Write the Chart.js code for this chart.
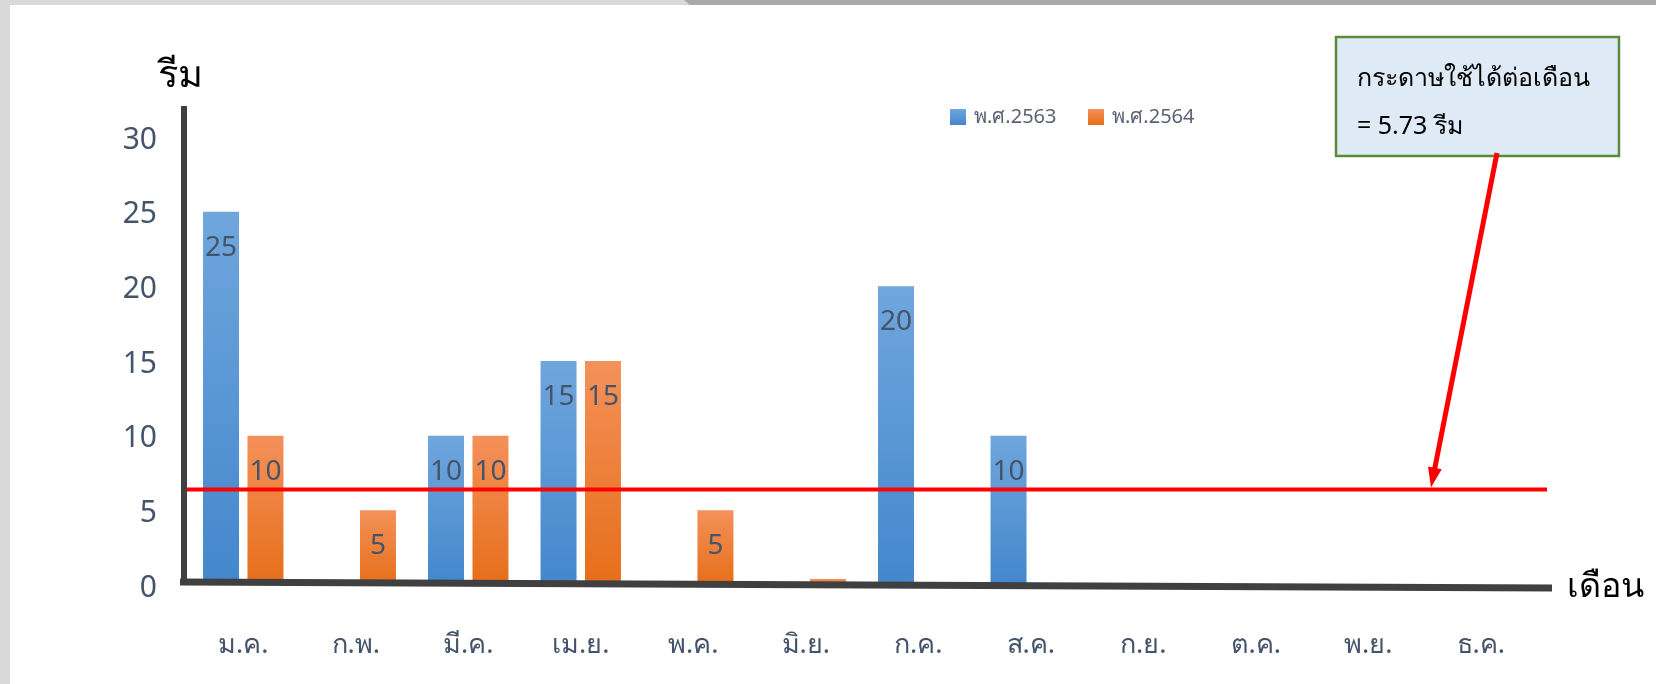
<!DOCTYPE html>
<html>
<head>
<meta charset="utf-8">
<script src="https://cdn.jsdelivr.net/npm/chart.js@4"></script>
<style>
  html, body { margin: 0; padding: 0; background: #fff; }
  #wrap { position: relative; width: 1656px; height: 684px; }
</style>
</head>
<body>
<div id="wrap"><canvas id="myChart"></canvas></div>
<script>
// ข้อมูลการใช้กระดาษ (รีม) รายเดือน
const months = ['ม.ค.', 'ก.พ.', 'มี.ค.', 'เม.ย.', 'พ.ค.', 'มิ.ย.', 'ก.ค.', 'ส.ค.', 'ก.ย.', 'ต.ค.', 'พ.ย.', 'ธ.ค.'];
const year2563 = [25, 0, 10, 15, 0, 0, 20, 10, 0, 0, 0, 0];
const year2564 = [10, 5, 10, 15, 5, 0.4, 0, 0, 0, 0, 0, 0];
const yTicks = [0, 5, 10, 15, 20, 25, 30];
const avgLine = 6.4;   // where the red line sits on the picture
const noteLines = ['กระดาษใช้ได้ต่อเดือน', '= 5.73 รีม'];

const FONT = "Tahoma, 'Noto Sans', 'Open Sans', sans-serif";
const SLATE = '#44546a';

// gradient per bar, like the office style fill
function barFill(top, bottom) {
  return function (ctx) {
    const chart = ctx.chart;
    const y = chart.scales.y;
    if (!chart.chartArea || !y || ctx.raw == null) return bottom;
    const y0 = y.getPixelForValue(0);
    const y1 = y.getPixelForValue(ctx.raw);
    if (Math.abs(y0 - y1) < 1) return bottom;
    const g = chart.ctx.createLinearGradient(0, y1, 0, y0);
    g.addColorStop(0, top);
    g.addColorStop(1, bottom);
    return g;
  };
}

// grey frame of the slide
const frame = {
  id: 'frame',
  beforeDraw(chart) {
    const c = chart.ctx;
    c.save();
    c.fillStyle = '#d9d9d9';
    c.fillRect(0, 0, 10, chart.height);
    c.fillRect(0, 0, 690, 5);
    c.fillStyle = '#aca8a8';
    c.beginPath();
    c.moveTo(684, 0); c.lineTo(chart.width, 0); c.lineTo(chart.width, 5); c.lineTo(690, 5);
    c.closePath(); c.fill();
    c.restore();
  }
};

// values written inside the bars
const barLabels = {
  id: 'barLabels',
  afterDatasetsDraw(chart) {
    const c = chart.ctx;
    c.save();
    c.font = '28px ' + FONT;
    c.fillStyle = SLATE;
    c.textAlign = 'center';
    c.textBaseline = 'middle';
    chart.data.datasets.forEach((ds, i) => {
      chart.getDatasetMeta(i).data.forEach((bar, j) => {
        const v = ds.data[j];
        if (v >= 1) c.fillText(v, bar.x, bar.y + 36);
      });
    });
    c.restore();
  }
};

// axis lines, red line, callout and the thai axis words
const extras = {
  id: 'extras',
  afterDraw(chart) {
    const c = chart.ctx;
    const a = chart.chartArea;
    const y = chart.scales.y;
    const zero = y.getPixelForValue(0);
    const redY = y.getPixelForValue(avgLine);
    c.save();

    // red average line
    c.strokeStyle = '#ff0000';
    c.lineWidth = 4;
    c.beginPath();
    c.moveTo(a.left - 5, redY);
    c.lineTo(a.right + 10, redY);
    c.stroke();

    // thick axis lines
    c.strokeStyle = '#404040';
    c.lineWidth = 6;
    c.beginPath();
    c.moveTo(a.left - 3, a.top - 31);
    c.lineTo(a.left - 3, zero);
    c.stroke();
    c.lineWidth = 7;
    c.beginPath();
    c.moveTo(a.left - 7, zero - 3);
    c.lineTo(a.right + 15, zero + 3);
    c.stroke();

    // axis words
    c.fillStyle = '#000';
    c.font = '38px ' + FONT;
    c.textBaseline = 'middle';
    c.textAlign = 'left';
    c.fillText('รีม', a.left - 29, 76);
    c.font = '34px ' + FONT;
    c.fillText('เดือน', a.right + 30, zero + 2);

    // legend
    c.font = '20px ' + FONT;
    const items = [
      { x: 950, top: '#6fa6dd', bottom: '#4387cc', label: chart.data.datasets[0].label },
      { x: 1088, top: '#f4915a', bottom: '#e66e19', label: chart.data.datasets[1].label }
    ];
    items.forEach(it => {
      const g = c.createLinearGradient(0, 109, 0, 125);
      g.addColorStop(0, it.top);
      g.addColorStop(1, it.bottom);
      c.fillStyle = g;
      c.fillRect(it.x, 109, 16, 16);
      c.fillStyle = '#5a6274';
      c.fillText(it.label, it.x + 24, 117);
    });

    // callout box
    c.fillStyle = '#deeaf6';
    c.fillRect(1336, 37, 283, 119);
    c.strokeStyle = '#5b8a3a';
    c.lineWidth = 2.5;
    c.strokeRect(1336, 37, 283, 119);
    c.fillStyle = '#000';
    c.font = '25px ' + FONT;
    c.fillText(noteLines[0], 1357, 79);
    c.fillText(noteLines[1], 1357, 127);

    // arrow down to the red line
    const x0 = 1497, y0 = 153, x1 = 1431, y1 = redY - 2;
    c.strokeStyle = '#ff0000';
    c.fillStyle = '#ff0000';
    c.lineWidth = 5;
    const ang = Math.atan2(y1 - y0, x1 - x0);
    c.beginPath();
    c.moveTo(x0, y0);
    c.lineTo(x1 - 14 * Math.cos(ang), y1 - 14 * Math.sin(ang));
    c.stroke();
    c.beginPath();
    c.moveTo(x1, y1);
    c.lineTo(x1 - 20 * Math.cos(ang) + 7 * Math.sin(ang), y1 - 20 * Math.sin(ang) - 7 * Math.cos(ang));
    c.lineTo(x1 - 20 * Math.cos(ang) - 7 * Math.sin(ang), y1 - 20 * Math.sin(ang) + 7 * Math.cos(ang));
    c.closePath();
    c.fill();

    c.restore();
  }
};

const ctx = document.getElementById('myChart');
const myChart = new Chart(ctx, {
  type: 'bar',
  data: {
    labels: months,
    datasets: [{
      label: 'พ.ศ.2563',
      data: year2563,
      backgroundColor: barFill('#6fa6dd', '#4387cc')
    }, {
      label: 'พ.ศ.2564',
      data: year2564,
      backgroundColor: barFill('#f4915a', '#e66e19')
    }]
  },
  options: {
    responsive: true,
    maintainAspectRatio: false,
    animation: false,
    layout: { padding: { left: 0, right: 119, top: 137, bottom: 0 } },
    plugins: {
      legend: { display: false },
      tooltip: { enabled: false }
    },
    datasets: {
      bar: { barPercentage: 0.81, categoryPercentage: 0.79 }
    },
    scales: {
      x: {
        grid: { display: false, drawTicks: false },
        border: { display: false },
        ticks: { color: SLATE, font: { family: FONT, size: 27 }, padding: 44 },
        afterFit(scale) { scale.height = 99; }
      },
      y: {
        min: 0,
        max: 30,
        grid: { display: false, drawTicks: false },
        border: { display: false },
        afterBuildTicks(scale) { scale.ticks = yTicks.map(v => ({ value: v })); },
        ticks: { color: SLATE, font: { family: FONT, size: 30 }, padding: 30, labelOffset: 3 },
        afterFit(scale) { scale.width = 187; }
      }
    }
  },
  plugins: [frame, barLabels, extras]
});
</script>
</body>
</html>
